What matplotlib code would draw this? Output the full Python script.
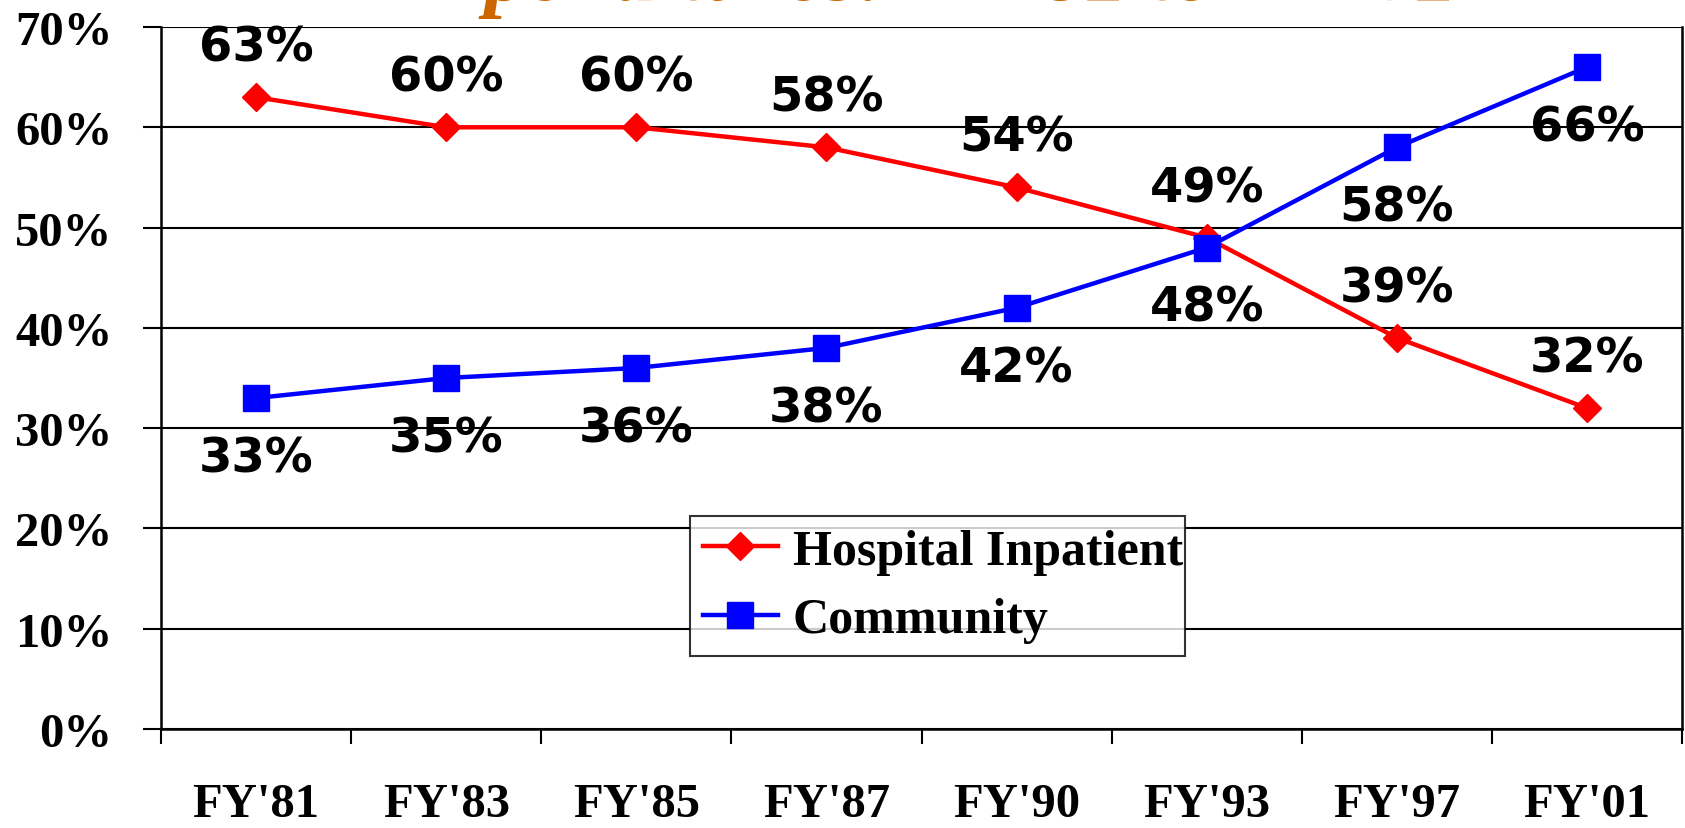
import numpy as np
import matplotlib
matplotlib.use("Agg")
import matplotlib.pyplot as plt

# data
years = ["FY'81", "FY'83", "FY'85", "FY'87", "FY'90", "FY'93", "FY'97", "FY'01"]
hospital = [63, 60, 60, 58, 54, 49, 39, 32]
community = [33, 35, 36, 38, 42, 48, 58, 66]
yticks = [0, 10, 20, 30, 40, 50, 60, 70]
title = "Expenditures: FY'81 to FY'01"


def main():
    fig = plt.figure(figsize=(16.85, 8.29), dpi=100)
    ax = fig.add_axes([161 / 1685, 1 - 730 / 829, 1521 / 1685, 702 / 829])

    x = np.arange(len(years)) + 0.5

    ax.plot(x, hospital, color="red", lw=3.2, marker="D", ms=14,
            label="Hospital Inpatient", zorder=3)
    ax.plot(x, community, color="blue", lw=3.2, marker="s", ms=19,
            label="Community", zorder=4)

    # value labels: hospital above, community below
    for xi, h, c in zip(x, hospital, community):
        ax.annotate(f"{h}%", (xi, h), xytext=(0, 36), textcoords="offset points",
                    ha="center", va="center", fontsize=34.5, fontweight="bold",
                    family="DejaVu Sans", zorder=5)
        ax.annotate(f"{c}%", (xi, c), xytext=(0, -43), textcoords="offset points",
                    ha="center", va="center", fontsize=34.5, fontweight="bold",
                    family="DejaVu Sans", zorder=5)

    ax.set_xlim(0, len(years))
    ax.set_ylim(0, 70)
    ax.set_yticks(yticks)
    ax.set_yticklabels([f"{v}%" for v in yticks])
    ax.yaxis.grid(True, color="black", lw=1.5)
    ax.set_axisbelow(True)

    ax.set_xticks(x)
    ax.set_xticklabels(years)
    ax.set_xticks(np.arange(len(years) + 1), minor=True)
    ax.tick_params(axis="x", which="major", length=0, pad=38)
    ax.tick_params(axis="x", which="minor", length=11, width=1.5, direction="out")
    ax.tick_params(axis="y", length=13, width=1.5, pad=22)

    for lab in ax.get_xticklabels() + ax.get_yticklabels():
        lab.set_family("Liberation Serif")
        lab.set_fontweight("bold")
        lab.set_fontsize(35)

    ax.spines["top"].set_visible(False)
    for s in ["left", "bottom", "right"]:
        ax.spines[s].set_linewidth(1.8)

    leg = ax.legend(loc="lower left", bbox_to_anchor=(0.348, 0.104, 0.325, 0.2),
                    mode="expand", frameon=True, fancybox=False, edgecolor="black",
                    prop={"family": "Liberation Serif", "weight": "bold", "size": 36},
                    handlelength=1.5, handletextpad=0.3, borderpad=0.25,
                    labelspacing=0.45, borderaxespad=0)
    leg.get_frame().set_linewidth(1.5)
    leg.set_zorder(6)

    # title sits mostly above the top edge, as in the original slide crop
    fig.text(0.547, 1.0, title, ha="center", va="baseline",
             fontsize=62, fontweight="bold", style="italic",
             family="Liberation Serif", color="#CC6600")

    fig.savefig("out.png", dpi=100)


if __name__ == "__main__":
    main()
